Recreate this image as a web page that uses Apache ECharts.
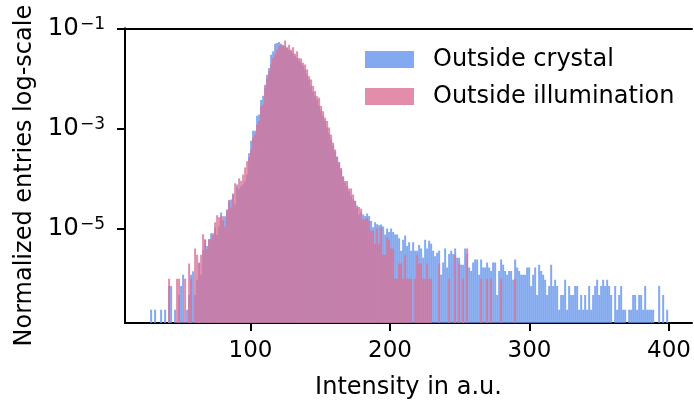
<!DOCTYPE html>
<html>
<head>
<meta charset="utf-8">
<script src="https://cdn.jsdelivr.net/npm/echarts@6/dist/echarts.min.js"></script>
<style>html,body{margin:0;padding:0;background:#fff}#c{width:694px;height:405px}</style>
</head>
<body>
<div id="c"></div>
<script>
// ---- data ----
const binStart = 28.0;
const binWidth = 1.434;
const seriesNames = ['Outside crystal', 'Outside illumination'];
const xTicks = [100, 200, 300, 400];
const yTicks = [1e-5, 1e-3, 1e-1];

const crystalValues = [
2.4e-7,0,2.4e-7,0,0,2.4e-7,0,2.4e-7,0,7.1e-7,
7.1e-7,0,2.4e-7,0,4.7e-7,7.1e-7,1.2e-6,0,2.4e-7,4.7e-7,
1.2e-6,1.4e-6,4.7e-7,9.5e-7,2.1e-6,1.2e-6,3.7e-6,5.9e-6,4.5e-6,6.1e-6,
8.1e-6,7.4e-6,1.06e-5,7.4e-6,1.1e-5,2.1e-5,1.46e-5,1.76e-5,2.4e-5,3.5e-5,
3.8e-5,5.0e-5,3.05e-5,7.6e-5,6.1e-5,7.0e-5,7.6e-5,8.7e-5,1.2e-4,3.2e-4,
5.7e-4,9.0e-4,9.0e-4,1.8e-3,1.9e-3,3.7e-3,4.5e-3,7.45e-3,1.18e-2,1.62e-2,
2.95e-2,3.5e-2,4.9e-2,5.1e-2,5.3e-2,4.9e-2,4.65e-2,4.45e-2,4.05e-2,3.7e-2,
3.5e-2,3.2e-2,2.8e-2,2.56e-2,2.25e-2,2.05e-2,1.78e-2,1.48e-2,1.18e-2,9.4e-3,
7.1e-3,5.4e-3,4.5e-3,3.7e-3,2.84e-3,2.25e-3,1.8e-3,1.43e-3,1.04e-3,7.9e-4,
6.0e-4,4.5e-4,3.5e-4,2.75e-4,2.1e-4,1.5e-4,1.1e-4,8.3e-5,7.0e-5,5.5e-5,
4.5e-5,3.8e-5,3.6e-5,2.9e-5,1.9e-5,2.1e-5,1.9e-5,1.78e-5,2.0e-5,1.78e-5,
1.42e-5,1.06e-5,1.34e-5,1.22e-5,1.16e-5,
1.2e-5,1.1e-5,7.6e-6,1.0e-5,8.5e-6,1.0e-5,8.5e-6,7.6e-6,7.6e-6,6.4e-6,
3.6e-6,6.0e-6,7.3e-6,4.5e-6,5.3e-6,3.6e-6,5.3e-6,3.6e-6,3.6e-6,4.7e-6,
4.0e-6,2.6e-6,6.0e-6,4.0e-6,5.7e-6,5.0e-6,3.6e-6,2.8e-6,3.3e-6,3.6e-6,
1.2e-6,2.1e-6,4.0e-6,1.66e-6,3.1e-6,3.6e-6,3.1e-6,4.0e-6,2.6e-6,2.6e-6,
1.9e-6,1.9e-6,4.0e-6,3.1e-6,1.66e-6,1.42e-6,2.1e-6,2.4e-6,2.4e-6,1.2e-6,
2.4e-6,1.66e-6,1.66e-6,2.1e-6,1.66e-6,1.42e-6,2.1e-6,2.1e-6,4.7e-7,1.42e-6,
2.4e-6,1.9e-6,1.42e-6,1.2e-6,1.42e-6,1.42e-6,9.5e-7,2.4e-6,1.66e-6,1.42e-6,
1.2e-6,1.2e-6,1.2e-6,1.66e-6,1.66e-6,7.1e-7,1.2e-6,1.66e-6,4.7e-7,1.9e-6,
1.42e-6,1.2e-6,9.5e-7,4.7e-7,7.1e-7,1.9e-6,7.1e-7,9.5e-7,7.1e-7,2.4e-7,
4.7e-7,4.7e-7,9.5e-7,2.4e-7,7.1e-7,4.7e-7,4.7e-7,7.1e-7,7.1e-7,2.4e-7,
4.7e-7,2.4e-7,4.7e-7,2.4e-7,7.1e-7,2.4e-7,4.7e-7,7.1e-7,9.5e-7,4.7e-7,
7.1e-7,9.5e-7,7.1e-7,9.5e-7,7.1e-7,4.7e-7,0,7.1e-7,2.4e-7,4.7e-7,
7.1e-7,2.4e-7,2.4e-7,0,2.4e-7,2.4e-7,4.7e-7,4.7e-7,2.4e-7,4.7e-7,
4.7e-7,2.4e-7,7.1e-7,2.4e-7,2.4e-7,2.4e-7,2.4e-7,0,0,7.1e-7,
0,4.7e-7,0,2.4e-7
];

const illuminationValues = [
0,0,0,0,0,0,0,0,0,1e-6,
0,0,0,1e-6,1e-6,0,0,1e-6,0,2e-6,
1e-6,0,4e-6,3e-6,2e-6,3e-6,7.7e-6,6.1e-6,3.9e-6,6.1e-6,
6.1e-6,8.1e-6,1.34e-5,1.84e-5,1.68e-5,1.76e-5,1.76e-5,1.1e-5,2.3e-5,3.7e-5,
2.65e-5,4.8e-5,8.0e-5,6.6e-5,1.0e-4,9.0e-5,1.2e-4,1.66e-4,2.2e-4,2.7e-4,
3.8e-4,6.6e-4,7.6e-4,1.2e-3,1.4e-3,2.84e-3,3.0e-3,6.5e-3,1.03e-2,1.4e-2,
1.9e-2,2.56e-2,3.0e-2,3.75e-2,4.4e-2,4.7e-2,4.4e-2,5.7e-2,4.2e-2,4.7e-2,
3.75e-2,4.2e-2,3.1e-2,3.5e-2,2.56e-2,2.5e-2,2.05e-2,1.9e-2,1.5e-2,1.1e-2,
9.5e-3,7.0e-3,5.6e-3,4.4e-3,4.1e-3,2.8e-3,2.2e-3,1.64e-3,1.4e-3,1.04e-3,
7.5e-4,5.2e-4,3.8e-4,2.7e-4,2.1e-4,1.63e-4,1.1e-4,8.9e-5,8.9e-5,6.3e-5,
6.3e-5,4.8e-5,3.5e-5,2.6e-5,2.7e-5,2.5e-5,1.53e-5,1.53e-5,1.65e-5,1.42e-5,
9e-6,9e-6,5e-6,1e-5,5e-6,1.06e-5,3e-6,3e-6,6.6e-6,6e-6,
4e-6,4e-6,1e-6,1e-6,2e-6,2e-6,1e-6,3e-6,1e-6,1e-6,
1e-6,0,1e-6,3e-6,2e-6,2e-6,1e-6,1e-6,2e-6,1e-6,
1e-6,0,0,0,2e-6,0,0,0,0,1e-6,
0,0,3e-6,0,2e-6,0,1e-6,0,4e-6,0,
0,0,0,0,0,1e-6,0,0,1e-6,0,
1e-6,0,0,0,0,1e-6,0,0,0,0,
0,0,1e-6
];

// ---- chart ----
const FONT = 'DejaVu Sans';
const blueColor = 'rgba(100,149,237,0.8)';
const pinkColor = 'rgba(219,112,147,0.8)';
const yMin = 1.3e-7, yMax = 0.1, xMin = 10, xMax = 416.5;

function makeBins(vals) {
  const d = [];
  for (let i = 0; i < vals.length; i++) {
    if (vals[i] > 0) d.push([binStart + i * binWidth, binStart + (i + 1) * binWidth, vals[i]]);
  }
  return d;
}
function barRenderer(color) {
  return function (params, api) {
    const a = api.coord([api.value(0), api.value(2)]);
    const b = api.coord([api.value(1), yMin]);
    return { type: 'rect', shape: { x: a[0], y: a[1], width: b[0] - a[0], height: b[1] - a[1] }, style: { fill: color } };
  };
}

const chart = echarts.init(document.getElementById('c'), null, { renderer: 'canvas' });
const axisLineStyle = { color: '#000', width: 2 };
chart.setOption({
  animation: false,
  grid: { left: 125, right: 2, top: 28.3, bottom: 81 },
  legend: {
    orient: 'vertical', left: 360, top: 42.5,
    itemWidth: 49, itemHeight: 17, itemGap: 13, icon: 'rect',
    data: seriesNames,
    textStyle: { fontSize: 24, fontFamily: FONT, color: '#000', padding: [0, 0, 0, 14], lineHeight: 17 }
  },
  xAxis: [{
    type: 'value', min: xMin, max: xMax, position: 'bottom',
    axisLine: { show: true, onZero: false, lineStyle: axisLineStyle },
    axisTick: { show: true, inside: false, length: 8, lineStyle: axisLineStyle, customValues: xTicks },
    axisLabel: { customValues: xTicks, fontSize: 23, fontFamily: FONT, color: '#000', margin: 17 },
    splitLine: { show: false },
    name: 'Intensity in a.u.', nameLocation: 'middle', nameGap: 53,
    nameTextStyle: { fontSize: 24, fontFamily: FONT, color: '#000' }
  }, {
    type: 'value', min: xMin, max: xMax, position: 'top',
    axisLine: { show: true, onZero: false, lineStyle: axisLineStyle },
    axisTick: { show: false }, axisLabel: { show: false }, splitLine: { show: false }
  }],
  yAxis: {
    type: 'log', logBase: 10, min: yMin, max: yMax,
    axisLine: { show: true, onZero: false, lineStyle: axisLineStyle },
    axisTick: { show: true, inside: false, length: 8, lineStyle: axisLineStyle, customValues: yTicks },
    axisLabel: {
      customValues: yTicks, margin: 20,
      formatter: function (v) {
        const e = Math.round(Math.log10(v));
        return '{b|10}{s|\u2212' + Math.abs(e) + '}';
      },
      rich: {
        b: { fontSize: 24.5, fontFamily: FONT, color: '#000', lineHeight: 25, verticalAlign: 'bottom', padding: [8, 0, 0, 0] },
        s: { fontSize: 17, fontFamily: FONT, color: '#000', lineHeight: 17, verticalAlign: 'top', padding: [0, 0, 0, 1] }
      }
    },
    splitLine: { show: false },
    name: 'Normalized entries log-scale', nameLocation: 'middle', nameGap: 86,
    nameTextStyle: { fontSize: 24, fontFamily: FONT, color: '#000' }
  },
  series: [{
    type: 'custom', name: seriesNames[0], renderItem: barRenderer(blueColor),
    encode: { x: [0, 1], y: 2 }, data: makeBins(crystalValues),
    itemStyle: { color: blueColor }, clip: true
  }, {
    type: 'custom', name: seriesNames[1], renderItem: barRenderer(pinkColor),
    encode: { x: [0, 1], y: 2 }, data: makeBins(illuminationValues),
    itemStyle: { color: pinkColor }, clip: true
  }]
});
</script>
</body>
</html>
